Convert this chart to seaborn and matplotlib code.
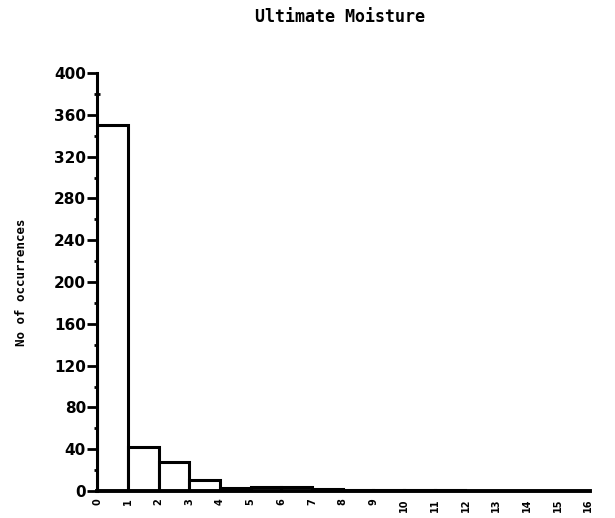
import numpy as np
import matplotlib
matplotlib.use("Agg")
import matplotlib.pyplot as plt
import seaborn as sns
from matplotlib.ticker import MultipleLocator

# data
bin_edges = list(range(0, 17))
counts = [350, 42, 28, 11, 3, 4, 4, 2, 1, 1, 1, 1, 0, 0, 0, 0]
x_labels = [str(v) for v in range(0, 17)]
y_ticks = list(range(0, 401, 40))

sns.set_style("ticks")
plt.rcParams['font.family'] = ['DejaVu Sans']
plt.rcParams['text.color'] = 'black'
plt.rcParams['axes.labelcolor'] = 'black'
plt.rcParams['xtick.color'] = 'black'
plt.rcParams['ytick.color'] = 'black'
plt.rcParams['axes.edgecolor'] = 'black'

fig = plt.figure(figsize=(6.15, 5.18), dpi=100)
ax = fig.add_axes([0.158, 0.052, 0.801, 0.807])

centers = [e + 0.5 for e in bin_edges[:-1]]
sns.histplot(x=centers, weights=counts, bins=bin_edges, ax=ax,
             color="white", edgecolor="black", linewidth=2.2, alpha=1)

ax.set_xlim(0, 16.05)
ax.set_ylim(0, 400)
ax.set_yticks(y_ticks)
ax.set_yticklabels([str(v) for v in y_ticks], fontsize=11, fontweight="bold")
ax.yaxis.set_minor_locator(MultipleLocator(20))
ax.set_xticks(bin_edges)
ax.set_xticklabels(x_labels, rotation=90, fontsize=7, fontweight="bold")
ax.tick_params(axis="y", which="major", direction="out", length=7, width=2, pad=1)
ax.tick_params(axis="y", which="minor", direction="inout", length=5, width=2)
ax.tick_params(axis="x", which="major", length=0, pad=5)

for s in ["top", "right"]:
    ax.spines[s].set_visible(False)
ax.spines["left"].set_linewidth(2.2)
ax.spines["bottom"].set_linewidth(2.8)

ax.set_ylabel("No of occurrences", fontsize=9, fontweight="bold",
              fontfamily="DejaVu Sans Mono")
ax.yaxis.set_label_coords(-0.14, 0.5)
ax.set_xlabel("")
fig.text(0.553, 0.968, "Ultimate Moisture", ha="center", va="center",
         fontsize=12, fontweight="bold", fontfamily="DejaVu Sans Mono")

fig.savefig("out.png", dpi=100, facecolor="white")
